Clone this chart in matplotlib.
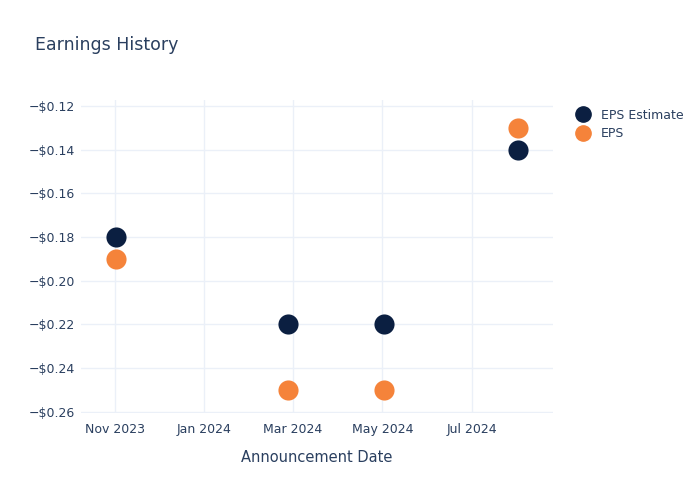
import matplotlib
matplotlib.use("Agg")
import matplotlib.pyplot as plt
import matplotlib.dates as mdates
from matplotlib.ticker import FuncFormatter, MultipleLocator
from matplotlib.lines import Line2D
import pandas as pd

# ---- data ----
dates = pd.to_datetime(["2023-11-02", "2024-02-27", "2024-05-02", "2024-08-01"])
eps_estimate = [-0.18, -0.22, -0.22, -0.14]
eps_actual = [-0.19, -0.25, -0.25, -0.13]

# ---- style ----
NAVY = "#0b1f41"
ORANGE = "#f5833a"
TEXT = "#2a3f5f"
GRID = "#ebf0f8"

fig = plt.figure(figsize=(7, 5), dpi=100)
ax = fig.add_axes([0.1153, 0.174, 0.6747, 0.626])

ax.scatter(dates, eps_estimate, s=210, color=NAVY, zorder=3, linewidths=0)
ax.scatter(dates, eps_actual, s=210, color=ORANGE, zorder=3, linewidths=0)

ax.set_xlim(pd.Timestamp("2023-10-09"), pd.Timestamp("2024-08-25"))
ax.set_ylim(-0.2605, -0.1173)

ax.xaxis.set_major_locator(mdates.MonthLocator(bymonth=[1, 3, 5, 7, 11]))
ax.xaxis.set_major_formatter(mdates.DateFormatter("%b %Y"))
ax.yaxis.set_major_locator(MultipleLocator(0.02))
ax.yaxis.set_major_formatter(FuncFormatter(lambda v, p: "\u2212$%.2f" % abs(v)))

ax.grid(True, color=GRID, linewidth=1)
ax.set_axisbelow(True)
for s in ax.spines.values():
    s.set_visible(False)
ax.tick_params(axis="both", length=0, colors=TEXT, labelsize=9)
ax.tick_params(axis="x", pad=7)
ax.tick_params(axis="y", pad=4)

ax.set_xlabel("Announcement Date", color=TEXT, fontsize=10.5, labelpad=10)
fig.text(0.05, 0.91, "Earnings History", color=TEXT, fontsize=12.5, va="center")

handles = [
    Line2D([], [], marker="o", linestyle="", markersize=11, color=NAVY, label="EPS Estimate"),
    Line2D([], [], marker="o", linestyle="", markersize=11, color=ORANGE, label="EPS"),
]
leg = fig.legend(handles=handles, loc="upper left", bbox_to_anchor=(0.812, 0.80),
                 frameon=False, fontsize=9, handletextpad=0.9, labelspacing=0.45,
                 handlelength=1.0, borderpad=0.2)
for t in leg.get_texts():
    t.set_color(TEXT)

fig.savefig("out.png", dpi=100)
